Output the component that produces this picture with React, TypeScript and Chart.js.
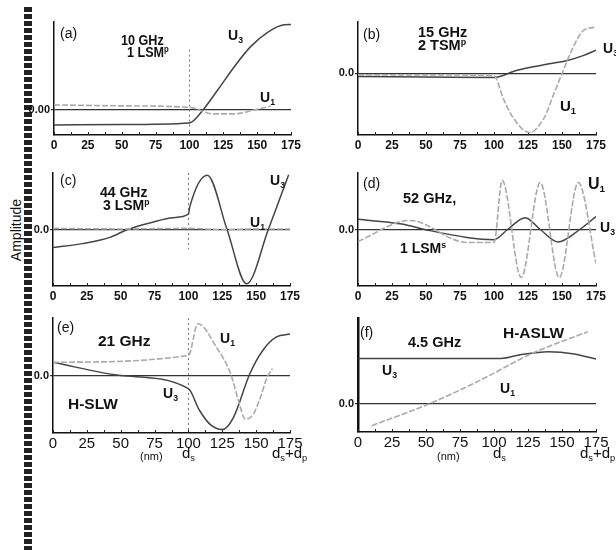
import React, { useEffect, useRef } from "react";
import { Chart, registerables } from "chart.js";

Chart.register(...registerables);

const X_TICKS = [0, 25, 50, 75, 100, 125, 150, 175];
const X_MINOR = [0, 12.5, 25, 37.5, 50, 62.5, 75, 87.5, 100, 112.5, 125, 137.5, 150, 162.5, 175];

// (a) 10 GHz, 1 LSM^p
const A_U1_X = [0, 50, 100, 118, 133, 148, 160];
const A_U1_Y = [0.2, 0.16, 0.1, -0.16, -0.16, 0, 0.15];
const A_U3_X = [0, 50, 100, 110, 121, 133, 145, 158, 170, 175];
const A_U3_Y = [-0.6, -0.58, -0.52, 0, 0.8, 1.71, 2.51, 3.1, 3.39, 3.4];

// (b) 15 GHz, 2 TSM^p
const B_U1_X = [0, 50, 100, 107, 114, 126, 137, 144, 151, 158, 166, 175];
const B_U1_Y = [-0.03, -0.03, -0.05, -0.5, -0.86, -1.15, -0.86, -0.4, 0.06, 0.5, 0.84, 0.9];
const B_U3_X = [0, 50, 100, 117, 142, 154, 166, 175];
const B_U3_Y = [-0.06, -0.07, -0.08, 0.06, 0.19, 0.25, 0.35, 0.45];

// (c) 44 GHz, 3 LSM^p
const C_U1_X = [0, 50, 100, 125, 150, 175];
const C_U1_Y = [0.02, 0.01, 0.02, 0.0, 0.01, 0.01];
const C_U3_X = [0, 22, 42, 55, 72, 89, 100, 101, 114, 128.5, 143, 159, 174];
const C_U3_Y = [-0.32, -0.25, -0.14, 0, 0.12, 0.21, 0.27, 0.4, 0.96, 0, -0.96, 0, 0.97];

// (d) 52 GHz, 1 LSM^s
const D_U1_X = [0, 38, 80, 100, 106, 120, 134, 148, 162, 175];
const D_U1_Y = [-0.21, 0.16, -0.23, -0.23, 0.87, -0.85, 0.83, -0.85, 0.83, -0.6];
const D_U3_X = [0, 31, 53, 80, 100, 110, 123, 134, 147, 163, 175];
const D_U3_Y = [0.18, 0.1, -0.02, -0.14, -0.18, 0, 0.21, 0, -0.22, 0, 0.23];

// (e) 21 GHz, H-SLW
const E_U1_X = [0, 100, 107, 121, 131, 137, 142, 148, 153, 158, 162];
const E_U1_Y = [0.23, 0.35, 0.9, 0.48, 0.04, -0.44, -0.76, -0.67, -0.39, -0.04, 0.12];
const E_U3_X = [0, 50, 100, 108, 116, 125, 133, 145.5, 155, 165, 175];
const E_U3_Y = [0.23, 0, -0.23, -0.6, -0.85, -0.94, -0.74, 0.04, 0.44, 0.67, 0.72];

// (f) 4.5 GHz, H-ASLW
const F_U1_X = [10, 53, 90, 129, 169];
const F_U1_Y = [-0.39, 0, 0.41, 0.89, 1.26];
const F_U3_X = [0, 50, 105, 120, 140, 159, 175];
const F_U3_Y = [0.79, 0.79, 0.79, 0.86, 0.91, 0.87, 0.78];

const FONT = '"Liberation Sans", Arial, Helvetica, sans-serif';

type Spec = {
  L: number; R: number; T: number; B: number;
  ymin: number; ymax: number; yLabel: string;
  u1x: number[]; u1y: number[]; u3x: number[]; u3y: number[];
  tickSize: number; tickWeight: string; tickPad: number;
  vline: number[] | null; yBorder: number;
};

const zip = (xs: number[], ys: number[]) => xs.map((x, i) => ({ x, y: ys[i] }));

const SPECS: Spec[] = [
  { L: 54, R: 291, T: 22, B: 135, ymin: -1, ymax: 3.5, yLabel: "0.00", u1x: A_U1_X, u1y: A_U1_Y, u3x: A_U3_X, u3y: A_U3_Y, tickSize: 12, tickWeight: "bold", tickPad: 3, vline: [2.4, -1], yBorder: 1.5 },
  { L: 358, R: 596, T: 22, B: 135, ymin: -1.2, ymax: 1, yLabel: "0.0", u1x: B_U1_X, u1y: B_U1_Y, u3x: B_U3_X, u3y: B_U3_Y, tickSize: 12, tickWeight: "bold", tickPad: 3, vline: null, yBorder: 1.5 },
  { L: 53, R: 290, T: 173, B: 286, ymin: -1, ymax: 1, yLabel: "0.0", u1x: C_U1_X, u1y: C_U1_Y, u3x: C_U3_X, u3y: C_U3_Y, tickSize: 12, tickWeight: "bold", tickPad: 3, vline: [1, -0.35], yBorder: 1.5 },
  { L: 358, R: 596, T: 173, B: 286, ymin: -1, ymax: 1, yLabel: "0.0", u1x: D_U1_X, u1y: D_U1_Y, u3x: D_U3_X, u3y: D_U3_Y, tickSize: 12, tickWeight: "bold", tickPad: 3, vline: null, yBorder: 1.5 },
  { L: 53, R: 290, T: 318, B: 433, ymin: -1, ymax: 1, yLabel: "0.0", u1x: E_U1_X, u1y: E_U1_Y, u3x: E_U3_X, u3y: E_U3_Y, tickSize: 15, tickWeight: "normal", tickPad: 2, vline: [1, -1], yBorder: 1.5 },
  { L: 358, R: 596, T: 318, B: 432, ymin: -0.5, ymax: 1.5, yLabel: "0.0", u1x: F_U1_X, u1y: F_U1_Y, u3x: F_U3_X, u3y: F_U3_Y, tickSize: 15, tickWeight: "normal", tickPad: 2, vline: null, yBorder: 2.5 },
];

const YW = 50, PT = 12, PR = 22, XH = 30;

function makeConfig(spec: Spec): any {
  const deco = {
    id: "deco",
    beforeDatasetsDraw(chart: any) {
      const { ctx, chartArea, scales } = chart;
      const x = scales.x, y = scales.y;
      ctx.save();
      ctx.strokeStyle = "#222";
      ctx.lineWidth = 1;
      for (const v of X_MINOR) {
        const px = Math.round(x.getPixelForValue(v)) + 0.5;
        ctx.beginPath();
        ctx.moveTo(px, chartArea.bottom);
        ctx.lineTo(px, chartArea.bottom - 3);
        ctx.stroke();
      }
      if (spec.vline) {
        ctx.setLineDash([2, 3]);
        ctx.strokeStyle = "#777";
        const px = Math.round(x.getPixelForValue(100)) + 0.5;
        ctx.beginPath();
        ctx.moveTo(px, y.getPixelForValue(spec.vline[0]));
        ctx.lineTo(px, y.getPixelForValue(spec.vline[1]));
        ctx.stroke();
      }
      ctx.restore();
    },
  };
  return {
    type: "line",
    data: {
      datasets: [
        {
          data: zip(spec.u1x, spec.u1y),
          borderColor: "#aaaaaa",
          borderWidth: 1.6,
          borderDash: [6, 2],
          pointRadius: 0,
          cubicInterpolationMode: "monotone",
          fill: false,
        },
        {
          data: zip(spec.u3x, spec.u3y),
          borderColor: "#444444",
          borderWidth: 1.5,
          pointRadius: 0,
          cubicInterpolationMode: "monotone",
          fill: false,
        },
      ],
    },
    options: {
      animation: false,
      responsive: false,
      maintainAspectRatio: false,
      events: [],
      layout: { padding: { top: PT, right: PR, left: 0, bottom: 0 } },
      plugins: { legend: { display: false }, tooltip: { enabled: false } },
      scales: {
        x: {
          type: "linear",
          min: 0,
          max: 175,
          afterBuildTicks: (s: any) => { s.ticks = X_TICKS.map((v) => ({ value: v })); },
          afterFit: (s: any) => { s.height = XH; },
          ticks: {
            autoSkip: false,
            maxRotation: 0,
            padding: spec.tickPad,
            color: "#111",
            font: { family: FONT, size: spec.tickSize, weight: spec.tickWeight },
            callback: (v: any) => String(v),
          },
          grid: { display: false, drawTicks: false },
          border: { display: true, color: "#111", width: 1.5 },
        },
        y: {
          type: "linear",
          min: spec.ymin,
          max: spec.ymax,
          afterBuildTicks: (s: any) => { s.ticks = [{ value: 0 }]; },
          afterFit: (s: any) => { s.width = YW; },
          ticks: {
            padding: 1,
            color: "#111",
            font: { family: FONT, size: 11, weight: "bold" },
            callback: () => spec.yLabel,
          },
          grid: { display: true, drawOnChartArea: true, drawTicks: true, tickLength: 3, color: "#333", lineWidth: 1.3 },
          border: { display: true, color: "#111", width: spec.yBorder },
        },
      },
    },
    plugins: [deco],
  };
}

function Panel({ spec }: { spec: Spec }) {
  const ref = useRef<HTMLCanvasElement | null>(null);
  const w = YW + spec.R - spec.L + PR;
  const h = PT + spec.B - spec.T + XH;
  useEffect(() => {
    const chart = new Chart(ref.current as HTMLCanvasElement, makeConfig(spec));
    return () => chart.destroy();
  }, []);
  return (
    <canvas
      ref={ref}
      width={w}
      height={h}
      style={{ position: "absolute", left: spec.L - YW, top: spec.T - PT, width: w, height: h }}
    />
  );
}

function T({ x, y, size = 14.5, bold = true, sx = 1, color = "#111", children }: any) {
  return (
    <div
      style={{
        position: "absolute",
        left: x,
        top: y - 0.13 * size,
        fontSize: size,
        lineHeight: 1,
        fontWeight: bold ? 700 : 400,
        fontFamily: FONT,
        color,
        whiteSpace: "nowrap",
        transform: `scaleX(${sx})`,
        transformOrigin: "left top",
      }}
    >
      {children}
    </div>
  );
}

const Sub = ({ c }: any) => (
  <span style={{ fontSize: "0.62em", position: "relative", top: "0.35em" }}>{c}</span>
);
const Sup = ({ c }: any) => (
  <span style={{ fontSize: "0.62em", position: "relative", top: "-0.6em" }}>{c}</span>
);

export default function App() {
  return (
    <div style={{ position: "absolute", left: 0, top: 0, width: 616, height: 550, background: "#fff", overflow: "hidden" }}>
      <div
        style={{
          position: "absolute",
          left: 24,
          top: 7,
          width: 8,
          height: 543,
          background: "repeating-linear-gradient(to bottom, #222 0px, #222 5px, transparent 5px, transparent 7px)",
        }}
      />
      <div
        style={{
          position: "absolute",
          left: 16,
          top: 230,
          transform: "translate(-50%, -50%) rotate(-90deg)",
          fontFamily: FONT,
          fontSize: 14,
          color: "#111",
          whiteSpace: "nowrap",
          lineHeight: 1,
        }}
      >
        Amplitude
      </div>
      {SPECS.map((s, i) => (
        <Panel key={i} spec={s} />
      ))}

      {/* (a) */}
      <T x={60} y={28} bold={false} size={14}>(a)</T>
      <T x={121} y={35} size={14} sx={0.9}>10 GHz</T>
      <T x={127} y={47} size={14} sx={0.9}>1 LSM<Sup c="p" /></T>
      <T x={228} y={30} size={14}>U<Sub c="3" /></T>
      <T x={260} y={92} size={14}>U<Sub c="1" /></T>

      {/* (b) */}
      <T x={363} y={29} bold={false} size={14}>(b)</T>
      <T x={418} y={27}>15 GHz</T>
      <T x={418} y={40}>2 TSM<Sup c="p" /></T>
      <T x={603} y={43} size={14}>U<Sub c="3" /></T>
      <T x={560} y={100} size={15}>U<Sub c="1" /></T>

      {/* (c) */}
      <T x={60} y={175} bold={false} size={14}>(c)</T>
      <T x={100} y={187} size={14}>44 GHz</T>
      <T x={103} y={200} size={14}>3 LSM<Sup c="p" /></T>
      <T x={270} y={175} size={14}>U<Sub c="3" /></T>
      <T x={250} y={217} size={14}>U<Sub c="1" /></T>

      {/* (d) */}
      <T x={363} y={178} bold={false} size={14}>(d)</T>
      <T x={403} y={193}>52 GHz,</T>
      <T x={400} y={243} size={14}>1 LSM<Sup c="s" /></T>
      <T x={588} y={178} size={16}>U<Sub c="1" /></T>
      <T x={600} y={222} size={14}>U<Sub c="3" /></T>

      {/* (e) */}
      <T x={57} y={322} bold={false} size={14}>(e)</T>
      <T x={98} y={335} size={15.5}>21 GHz</T>
      <T x={68} y={398} size={15.5}>H-SLW</T>
      <T x={163} y={388} size={14}>U<Sub c="3" /></T>
      <T x={220} y={333} size={14}>U<Sub c="1" /></T>
      <T x={140} y={452} size={11} bold={false}>(nm)</T>
      <T x={182} y={447} size={15} bold={false}>d<Sub c="s" /></T>
      <T x={272} y={447} size={15} bold={false}>d<Sub c="s" />+d<Sub c="p" /></T>

      {/* (f) */}
      <T x={360} y={327} bold={false} size={14}>(f)</T>
      <T x={408} y={337} size={14.5}>4.5 GHz</T>
      <T x={503} y={327} size={15.5}>H-ASLW</T>
      <T x={382} y={365} size={14}>U<Sub c="3" /></T>
      <T x={500} y={383} size={14}>U<Sub c="1" /></T>
      <T x={437} y={452} size={11} bold={false}>(nm)</T>
      <T x={493} y={447} size={15} bold={false}>d<Sub c="s" /></T>
      <T x={580} y={447} size={15} bold={false}>d<Sub c="s" />+d<Sub c="p" /></T>
    </div>
  );
}
